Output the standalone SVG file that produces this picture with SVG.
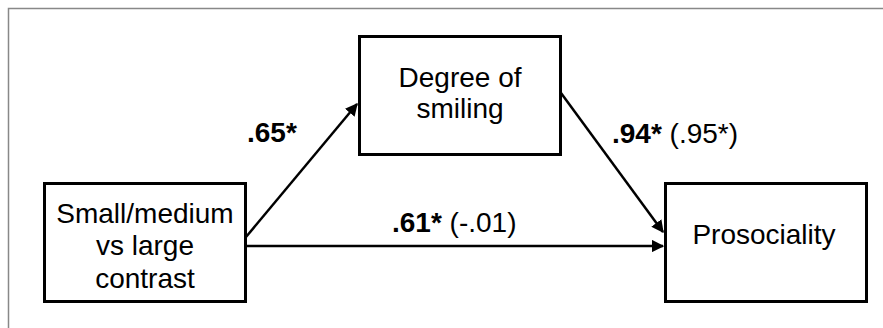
<svg xmlns="http://www.w3.org/2000/svg" width="883" height="328" viewBox="0 0 883 328">
<defs>
<style>
.box{fill:#fff;stroke:#000;stroke-width:3}
.t{font-family:"Liberation Sans",Arial,sans-serif;font-size:28px;fill:#000;text-anchor:middle}
.lbl{font-family:"Liberation Sans",Arial,sans-serif;font-size:28px;fill:#000}
.b{font-weight:bold}
.edge{stroke:#000;stroke-width:2.5;fill:none;marker-end:url(#arr)}
</style>
<marker id="arr" viewBox="0 0 10 10" refX="9" refY="5" markerWidth="5" markerHeight="5" orient="auto" markerUnits="strokeWidth">
<path d="M0,0 L10,5 L0,10 z" fill="#000"/>
</marker>
</defs>
<rect width="883" height="328" fill="#fff"/>
<path d="M8.5,328 V8.5 H883" fill="none" stroke="#888" stroke-width="1.5"/>
<g id="connectors">
<line class="edge" x1="246" y1="237" x2="357" y2="104"/>
<line class="edge" x1="246" y1="246" x2="663" y2="246"/>
<line class="edge" x1="561" y1="93" x2="663" y2="232"/>
</g>
<g id="labels">
<text class="lbl b" x="247" y="142">.65*</text>
<text class="lbl" x="392" y="232"><tspan class="b">.61*</tspan> (-.01)</text>
<text class="lbl" x="612" y="143"><tspan class="b">.94*</tspan> (.95*)</text>
</g>
<g id="node-contrast">
<rect class="box" x="44.5" y="183.5" width="201" height="118"/>
<text class="t" x="145" y="223">Small/medium</text>
<text class="t" x="145" y="255">vs large</text>
<text class="t" x="145" y="288">contrast</text>
</g>
<g id="node-smiling">
<rect class="box" x="359.5" y="36.5" width="201" height="118"/>
<text class="t" x="460" y="87">Degree of</text>
<text class="t" x="460" y="118">smiling</text>
</g>
<g id="node-prosociality">
<rect class="box" x="665.5" y="183.5" width="201" height="118"/>
<text class="t" x="764" y="244">Prosociality</text>
</g>
</svg>
